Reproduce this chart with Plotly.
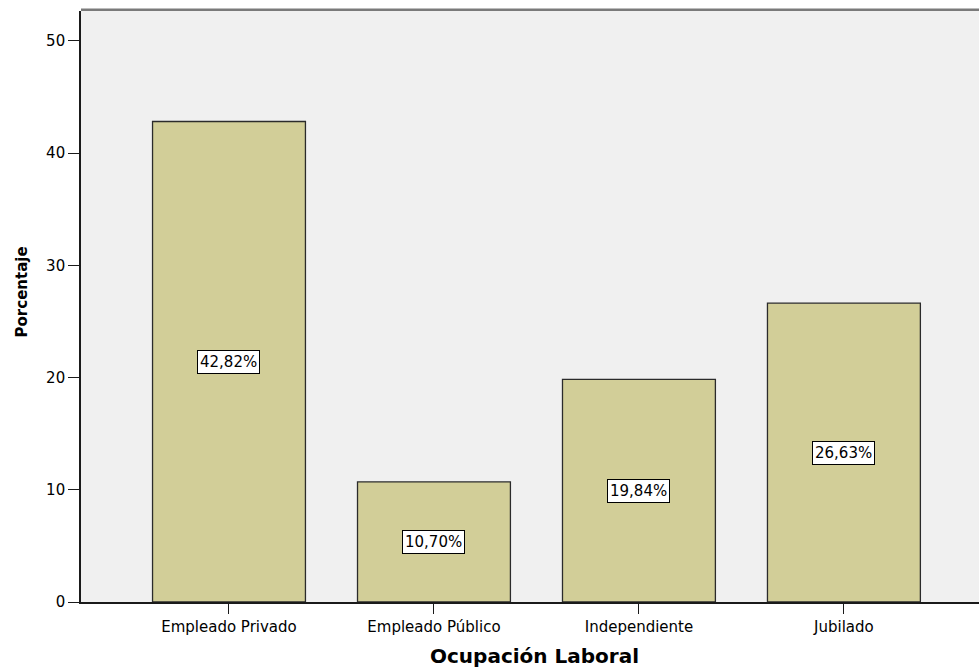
import plotly.graph_objects as go

categorias = ["Empleado Privado", "Empleado Público", "Independiente", "Jubilado"]
porcentajes = [42.82, 10.70, 19.84, 26.63]
etiquetas = [f"{v:.2f}".replace(".", ",") + "%" for v in porcentajes]
ticks_y = [0, 10, 20, 30, 40, 50]

FUENTE = "DejaVu Sans"

fig = go.Figure()
fig.add_trace(go.Bar(
    x=list(range(len(categorias))),
    y=porcentajes,
    width=0.746,
    marker=dict(color="#D2CE98", line=dict(color="#2b2b2b", width=1.3)),
    hoverinfo="skip",
))

# etiquetas de porcentaje centradas dentro de cada barra
for i, (v, t) in enumerate(zip(porcentajes, etiquetas)):
    fig.add_annotation(
        x=i, y=v / 2, text=t, showarrow=False,
        font=dict(family=FUENTE, size=15, color="black"),
        bgcolor="white", bordercolor="black", borderwidth=1, borderpad=2,
    )

# títulos de los ejes
fig.add_annotation(
    xref="paper", yref="paper", x=0.505, y=-0.092, yanchor="middle",
    text="<b>Ocupación Laboral</b>", showarrow=False,
    font=dict(family=FUENTE, size=20, color="black"),
)
fig.add_annotation(
    xref="paper", yref="paper", x=-0.066, y=0.525, xanchor="center", yanchor="middle",
    text="<b>Porcentaje</b>", textangle=-90, showarrow=False,
    font=dict(family=FUENTE, size=15, color="black"),
)

# borde superior del área de trazado
fig.add_shape(type="line", xref="paper", yref="paper", x0=0, x1=1, y0=1.002, y1=1.002,
              line=dict(color="#7a7a7a", width=2.5))

fig.update_layout(
    width=979, height=669,
    margin=dict(l=81, r=0, t=11, b=67),
    paper_bgcolor="white",
    plot_bgcolor="#F0F0F0",
    showlegend=False,
    font=dict(family=FUENTE, size=15, color="black"),
    xaxis=dict(
        tickmode="array", tickvals=list(range(len(categorias))), ticktext=categorias,
        range=[-0.722, 3.659], showgrid=False, zeroline=False,
        showline=True, linecolor="#1a1a1a", linewidth=1.6,
        ticks="outside", ticklen=10, tickcolor="#1a1a1a", tickwidth=1.3,
        tickfont=dict(family=FUENTE, size=15),
    ),
    yaxis=dict(
        range=[0, 52.67], tickvals=ticks_y,
        showgrid=False, zeroline=False,
        showline=True, linecolor="#1a1a1a", linewidth=1.6,
        ticks="outside", ticklen=11, tickcolor="#1a1a1a", tickwidth=1.3,
        tickfont=dict(family=FUENTE, size=15),
    ),
)

fig.write_html("out.html")
